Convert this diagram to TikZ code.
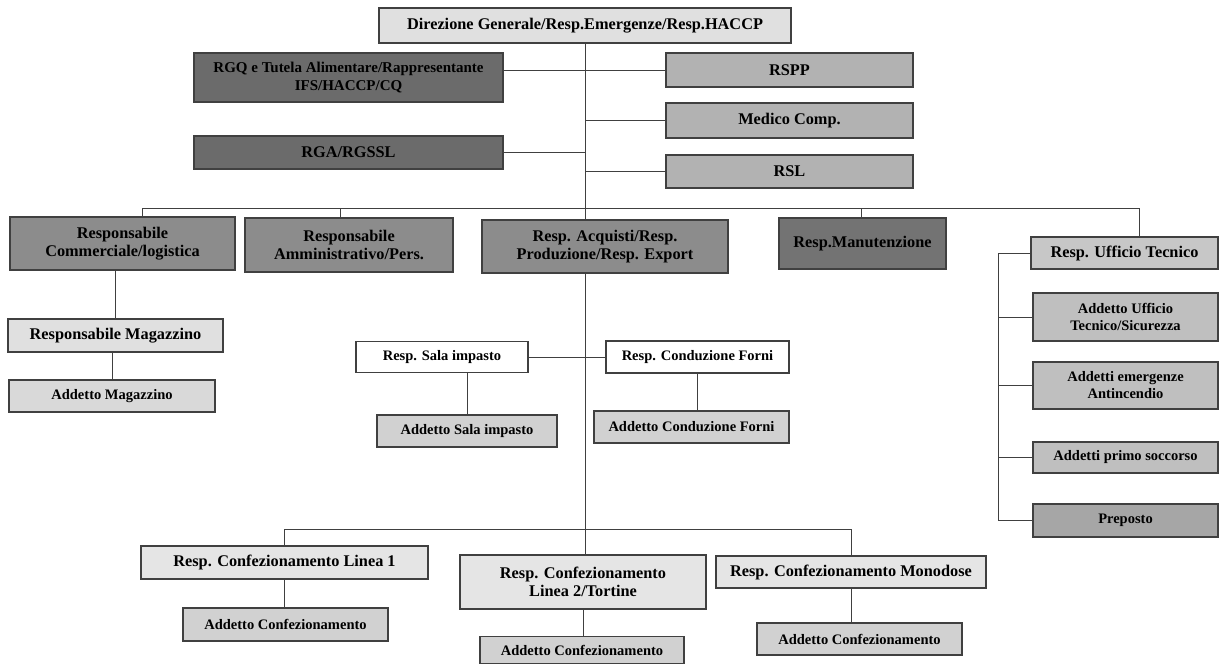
\documentclass[tikz,border=0pt]{standalone}
\usepackage{fontspec}
\setmainfont{Liberation Serif}
\begin{document}
\begin{tikzpicture}[x=1pt,y=-1pt,
    box/.style={draw=black!75, line width=1.2pt, inner sep=0pt, align=center,
        font=\fontsize{16.3}{18}\selectfont\bfseries},
    small/.style={box, font=\fontsize{14.5}{17}\selectfont\bfseries},
    link/.style={black!75, line width=0.9pt}]

\useasboundingbox (0,0) rectangle (1226,666);

\node[box, fill=black!12, minimum width=412pt, minimum height=35pt] (dir) at (585,25.5) {Direzione Generale/Resp.Emergenze/Resp.HACCP};

\node[box, fill=black!58, minimum width=309pt, minimum height=49pt, font=\fontsize{15}{18}\selectfont\bfseries] (rgq) at (348.5,77.5) {RGQ e Tutela Alimentare/Rappresentante\\IFS/HACCP/CQ};
\node[box, fill=black!58, minimum width=309pt, minimum height=33pt] (rga) at (348.5,152.5) {RGA/RGSSL};

\node[box, fill=black!30, minimum width=247pt, minimum height=34pt] (rspp) at (789.5,70) {RSPP};
\node[box, fill=black!30, minimum width=247pt, minimum height=35pt] (medico) at (789.5,120.5) {Medico Comp.};
\node[box, fill=black!30, minimum width=247pt, minimum height=33pt] (rsl) at (789.5,171.5) {RSL};

\node[box, fill=black!45, minimum width=225pt, minimum height=53pt] (comm) at (122.5,243.5) {Responsabile\\Commerciale/logistica};
\node[box, fill=black!45, minimum width=208pt, minimum height=54pt] (amm) at (349,245) {Responsabile\\Amministrativo/Pers.};
\node[box, fill=black!45, minimum width=246pt, minimum height=53pt] (acq) at (605,246.5) {Resp. Acquisti/Resp.\\Produzione/Resp. Export};
\node[box, fill=black!55, minimum width=167pt, minimum height=51pt] (man) at (862.5,243.5) {Resp.Manutenzione};
\node[box, fill=black!22, minimum width=187pt, minimum height=32pt] (uff) at (1124.5,253) {Resp. Ufficio Tecnico};

\node[small, fill=black!25, minimum width=185pt, minimum height=48pt] (adduff) at (1125.5,317) {Addetto Ufficio\\Tecnico/Sicurezza};
\node[small, fill=black!25, minimum width=185pt, minimum height=47pt] (antinc) at (1125.5,385.5) {Addetti emergenze\\Antincendio};
\node[small, fill=black!25, minimum width=185pt, minimum height=31pt] (primo) at (1125.5,457.5) {Addetti primo soccorso};
\node[small, fill=black!35, minimum width=185pt, minimum height=33pt] (prep) at (1125.5,520.5) {Preposto};

\node[box, fill=black!12, minimum width=215pt, minimum height=33pt] (mag) at (115.5,335.5) {Responsabile Magazzino};
\node[small, fill=black!15, minimum width=206pt, minimum height=32pt] (addmag) at (112,396) {Addetto Magazzino};

\node[small, fill=white, minimum width=172pt, minimum height=31pt] (sala) at (442,357) {Resp. Sala impasto};
\node[small, fill=white, minimum width=183pt, minimum height=32pt] (forni) at (697.5,357) {Resp. Conduzione Forni};
\node[small, fill=black!18, minimum width=180pt, minimum height=32pt] (addsala) at (467,431) {Addetto Sala impasto};
\node[small, fill=black!18, minimum width=195pt, minimum height=32pt] (addforni) at (691.5,427) {Addetto Conduzione Forni};

\node[box, fill=black!10, minimum width=287pt, minimum height=33pt] (l1) at (284.5,562.5) {Resp. Confezionamento Linea 1};
\node[box, fill=black!10, minimum width=246pt, minimum height=54pt] (l2) at (583,582) {Resp. Confezionamento\\Linea 2/Tortine};
\node[box, fill=black!10, minimum width=270pt, minimum height=32pt] (mono) at (851,572) {Resp. Confezionamento Monodose};
\node[small, fill=black!18, minimum width=205pt, minimum height=33pt] (ac1) at (285.5,624.5) {Addetto Confezionamento};
\node[small, fill=black!18, minimum width=204pt, minimum height=27pt] (ac2) at (582,650) {Addetto Confezionamento};
\node[small, fill=black!18, minimum width=205pt, minimum height=32pt] (ac3) at (859.5,639) {Addetto Confezionamento};

\foreach \n/\x in {comm/142, amm/340, acq/585, man/861, uff/1139}
{
    \coordinate (b\n) at (\x,208);
    \draw[link] (b\n) -- (b\n |- \n.north);
}
\draw[link] (bcomm) -- (buff);
\draw[link] (dir.south) -- (bacq);

\draw[link] (rgq.east |- rspp.west) -- (rspp.west);
\draw[link] (rga.east) -- (rga.east -| dir.south);
\draw[link] (medico.west) -- (medico.west -| dir.south);
\draw[link] (rsl.west) -- (rsl.west -| dir.south);

\coordinate (col) at (998,0);
\foreach \n in {uff,adduff,antinc,primo,prep}
{
    \draw[link] (\n.west) -- (\n.west -| col);
}
\draw[link] (uff.west -| col) -- (prep.west -| col);

\draw[link] (mag.north) -- (mag.north |- comm.south);
\draw[link] (addmag.north) -- (addmag.north |- mag.south);

\draw[link] (sala.east) -- (forni.west);
\draw[link] (addsala.north) -- (addsala.north |- sala.south);
\draw[link] (forni.south) -- (forni.south |- addforni.north);

\coordinate (cbus) at (585,529);
\draw[link] (bacq |- acq.south) -- (bacq |- l2.north);
\draw[link] (l1.north |- cbus) -- (mono.north |- cbus);
\draw[link] (l1.north |- cbus) -- (l1.north);
\draw[link] (mono.north |- cbus) -- (mono.north);

\draw[link] (l1.south) -- (l1.south |- ac1.north);
\draw[link] (l2.south) -- (l2.south |- ac2.north);
\draw[link] (mono.south) -- (mono.south |- ac3.north);

\end{tikzpicture}
\end{document}
